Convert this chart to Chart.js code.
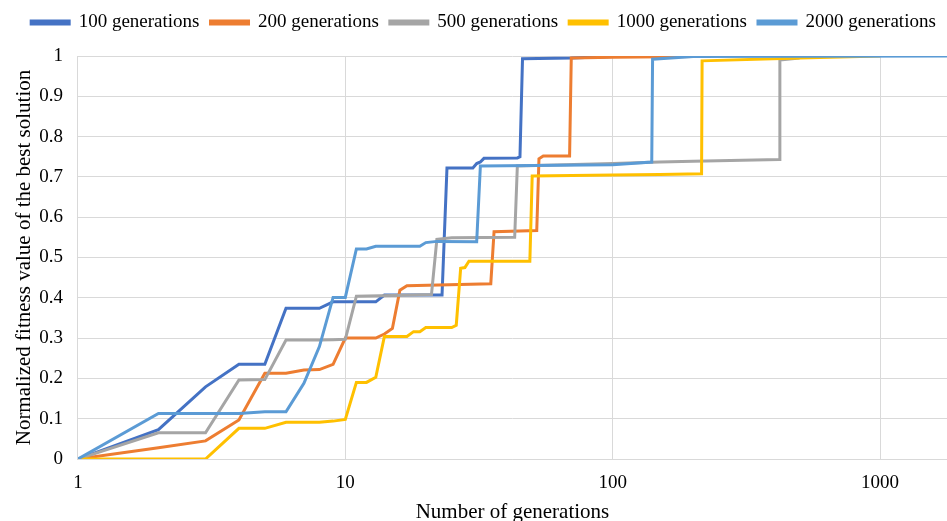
<!DOCTYPE html>
<html lang="en">
<head>
  <meta charset="UTF-8">
  <title>Normalized fitness vs generations</title>
  <script src="https://cdn.jsdelivr.net/npm/chart.js"></script>
  <style>
      html, body { margin: 0; padding: 0; background: #fff; overflow: hidden; }
      #chart-container { width: 947px; height: 525px; }
  </style>
</head>
<body>
  <div id="chart-container">
    <canvas id="myChart"></canvas>
  </div>

  <script>
    // Series (x = generation, y = normalized fitness)
    const gen100X = [1, 2, 3, 4, 5, 6, 7, 8, 9, 10, 13, 14, 23, 24, 30, 31, 32, 33, 44, 45, 46, 70, 100];
    const gen100Y = [0, 0.073, 0.179, 0.235, 0.235, 0.374, 0.374, 0.374, 0.39, 0.39, 0.39, 0.407, 0.407, 0.722, 0.722, 0.733, 0.737, 0.746, 0.747, 0.75, 0.993, 0.995, 0.999];

    const gen200X = [1, 2, 3, 4, 5, 6, 7, 8, 9, 10, 13, 14, 15, 16, 17, 35, 36, 52, 53, 55, 69, 70, 100, 200];
    const gen200Y = [0, 0.028, 0.045, 0.097, 0.213, 0.213, 0.221, 0.222, 0.235, 0.30, 0.30, 0.31, 0.324, 0.419, 0.43, 0.435, 0.564, 0.567, 0.745, 0.752, 0.752, 0.995, 0.997, 0.999];

    const gen500X = [1, 2, 3, 4, 5, 6, 7, 8, 9, 10, 11, 15, 21, 22, 25, 43, 44, 100, 150, 200, 421, 422, 500];
    const gen500Y = [0, 0.065, 0.065, 0.196, 0.197, 0.295, 0.295, 0.295, 0.296, 0.297, 0.404, 0.406, 0.408, 0.545, 0.549, 0.55, 0.727, 0.733, 0.737, 0.739, 0.743, 0.99, 0.995];

    const gen1000X = [1, 2, 3, 4, 5, 6, 7, 8, 9, 10, 11, 12, 13, 14, 17, 18, 19, 20, 25, 26, 27, 28, 29, 49, 50, 100, 150, 215, 216, 500, 1000];
    const gen1000Y = [0, 0, 0, 0.076, 0.076, 0.091, 0.091, 0.091, 0.094, 0.098, 0.19, 0.19, 0.203, 0.304, 0.304, 0.316, 0.316, 0.326, 0.326, 0.332, 0.473, 0.475, 0.491, 0.491, 0.702, 0.705, 0.706, 0.708, 0.988, 0.995, 1.0];

    const gen2000X = [1, 2, 3, 4, 5, 6, 7, 8, 9, 10, 11, 12, 13, 19, 20, 22, 31, 32, 100, 140, 141, 200, 2000];
    const gen2000Y = [0, 0.113, 0.113, 0.113, 0.117, 0.117, 0.188, 0.279, 0.401, 0.401, 0.521, 0.521, 0.528, 0.528, 0.537, 0.54, 0.539, 0.727, 0.73, 0.737, 0.992, 0.999, 1.0];

    const seriesLabels = ['100 generations', '200 generations', '500 generations', '1000 generations', '2000 generations'];
    const seriesColors = ['#4472C4', '#ED7D31', '#A5A5A5', '#FFC000', '#5B9BD5'];
    const seriesX = [gen100X, gen200X, gen500X, gen1000X, gen2000X];
    const seriesY = [gen100Y, gen200Y, gen500Y, gen1000Y, gen2000Y];

    const xTicks = [1, 10, 100, 1000];

    const serif = "'Liberation Serif', 'Times New Roman', serif";

    const datasets = seriesLabels.map((label, i) => ({
      label: label,
      data: seriesX[i].map((x, j) => ({ x: x, y: seriesY[i][j] })),
      borderColor: seriesColors[i],
      backgroundColor: seriesColors[i],
      borderWidth: 3,
      pointRadius: 0,
      tension: 0,
      fill: false,
      order: seriesLabels.length - i   // later series drawn on top, like Excel
    }));

    // push the plot area down below the legend, and nudge the legend right a little
    const legendTweak = {
      id: 'legendTweak',
      beforeInit(chart) {
        const origFit = chart.legend.fit;
        chart.legend.fit = function fit() {
          origFit.bind(chart.legend)();
          this.height += 14;
        };
      },
      afterLayout(chart) {
        chart.legend.left += 10;
        chart.legend.right += 10;
      }
    };

    const ctx = document.getElementById('myChart').getContext('2d');
    new Chart(ctx, {
      type: 'line',
      data: { datasets: datasets },
      plugins: [legendTweak],
      options: {
        responsive: true,
        maintainAspectRatio: false,
        animation: false,
        layout: { padding: { top: 2, right: 0, bottom: 0, left: 0 } },
        plugins: {
          tooltip: { enabled: false },
          legend: {
            position: 'top',
            labels: {
              sort: (a, b) => a.datasetIndex - b.datasetIndex,
              boxWidth: 38,
              boxHeight: 3,
              padding: 11,
              color: '#000',
              font: { family: serif, size: 19 }
            }
          }
        },
        scales: {
          x: {
            type: 'logarithmic',
            min: 1,
            max: 1780,
            afterBuildTicks: (scale) => { scale.ticks = xTicks.map(v => ({ value: v })); },
            ticks: {
              color: '#000',
              padding: 13,
              autoSkip: false,
              maxRotation: 0,
              font: { family: serif, size: 19 },
              callback: (v) => String(v)
            },
            grid: { color: '#d9d9d9', lineWidth: 1, drawTicks: false },
            border: { color: '#d9d9d9', width: 1 },
            title: {
              display: true,
              text: 'Number of generations',
              color: '#000',
              font: { family: serif, size: 21 },
              padding: { top: -8, bottom: 0 }
            }
          },
          y: {
            min: 0,
            max: 1,
            ticks: {
              stepSize: 0.1,
              color: '#000',
              padding: 15,
              font: { family: serif, size: 19 },
              callback: (v) => String(Math.round(v * 10) / 10)
            },
            grid: { color: '#d9d9d9', lineWidth: 1, drawTicks: false },
            border: { color: '#d9d9d9', width: 1 },
            title: {
              display: true,
              text: 'Normalized fitness value of the best solution',
              color: '#000',
              font: { family: serif, size: 21 },
              padding: { top: 12, bottom: -13 }
            }
          }
        }
      }
    });
  </script>
</body>
</html>
